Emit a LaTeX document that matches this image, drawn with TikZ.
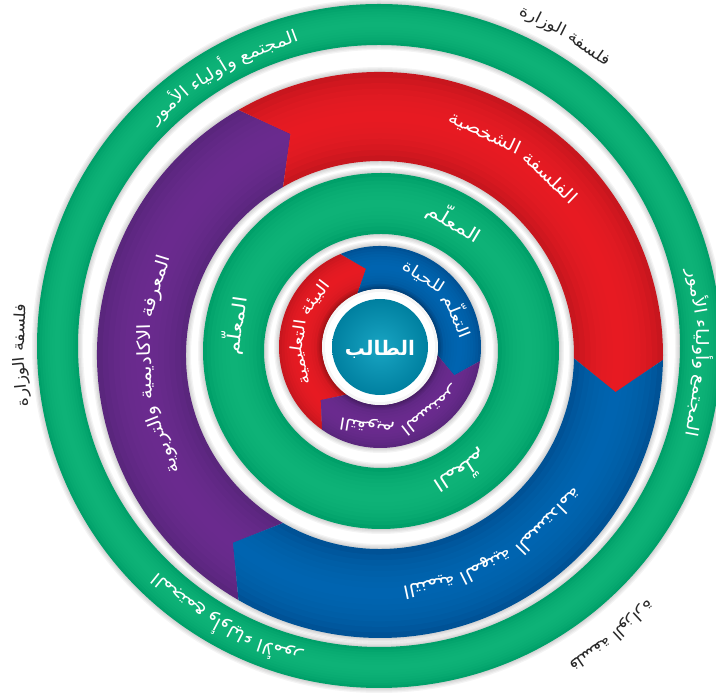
\documentclass[tikz,border=0pt]{standalone}
\usepackage{fontspec}
\newfontfamily\arabicfont[Script=Arabic]{DejaVu Sans}
\newfontfamily\arA[Script=Arabic,FakeStretch=1.12]{DejaVu Sans}
\newfontfamily\arB[Script=Arabic,FakeStretch=1.2]{DejaVu Sans}
\TeXXeTstate=1
\definecolor{grn}{RGB}{0,160,105}
\definecolor{grnL}{RGB}{20,185,125}
\definecolor{redB}{RGB}{200,22,30}
\definecolor{redL}{RGB}{240,30,38}
\definecolor{purB}{RGB}{90,38,125}
\definecolor{purL}{RGB}{112,46,148}
\definecolor{bluB}{RGB}{0,82,150}
\definecolor{bluL}{RGB}{0,106,184}
\definecolor{tealB}{RGB}{0,128,160}
\definecolor{tealL}{RGB}{25,165,195}
\definecolor{txtgray}{RGB}{40,40,40}
\newcommand\fOut{\arA\fontsize{15.5}{18}\selectfont}
\newcommand\fRing{\arA\fontsize{17}{19}\selectfont}
\newcommand\fBig{\arA\fontsize{18}{20}\selectfont}
\newcommand\fMid{\arB\fontsize{18.5}{20}\selectfont}
\newcommand\fIn{\arB\fontsize{16}{18}\selectfont}
\newlength\arcwd
\newcounter{arcnode}
\newcommand\measurew[1]{%
  \pgfinterruptpicture\settowidth\arcwd{#1}\global\arcwd=\arcwd\relax\endpgfinterruptpicture}
% #1 mid angle, #2 radius of text middle, #3 font, #4 colour,
% #5 pieces in reading order; an item | stands for a word space
\newcommand\arcphrase[5]{%
  \measurew{#3\ }\xdef\arcgap{\the\arcwd}%
  \measurew{#3\hspace{0.28em}}\xdef\arcdrop{\the\arcwd}%
  \xdef\arctot{0}%
  \foreach \w in {#5}{%
    \if|\w \xdef\arcw{\arcgap}\else\measurew{#3\beginR\w\endR}\xdef\arcw{\the\arcwd}\fi
    \pgfmathsetmacro\tmp{\arctot+\arcw}%
    \xdef\arctot{\tmp}}%
  \pgfmathsetmacro\arcstart{#1-\arctot/2/(#2)*180/pi}%
  \xdef\arcstart{\arcstart}%
  \pgfmathsetmacro\arcrb{#2-\arcdrop}\xdef\arcrb{\arcrb}%
  \xdef\arccur{0}%
  \foreach \w in {#5}{%
    \if|\w \xdef\arcw{\arcgap}\else\measurew{#3\beginR\w\endR}\xdef\arcw{\the\arcwd}\fi
    \if|\w \else
      \pgfmathsetmacro\tha{\arcstart+(\arccur+\arcw/2)/(#2)*180/pi}%
      \stepcounter{arcnode}%
      \node[arctext, text=#4, rotate=\tha-90] (t\thearcnode) at (\tha:\arcrb) {#3\beginR\w\endR};
    \fi
    \pgfmathsetmacro\tmp{\arccur+\arcw}%
    \xdef\arccur{\tmp}}%
}
% light band shading between radii #1 and #2
\newcommand\bandshade[3]{%
  \foreach \k in {1,...,7}{%
    \draw[#3, opacity=0.22, line width={(#2-#1)*(1-\k/8)}] (0,0) circle[radius={(#1+#2)/2}];}}
\newcommand\bandshadow[2]{%
  \foreach \k in {1,...,4}{%
    \draw[black, opacity=0.045, line width={(#2-#1)+2.5*\k}] (0,0) circle[radius={(#1+#2)/2}];}}
% segment: #1 tail angle, #2 head angle, #3 ri, #4 ro, #5 tip depth, #6 base, #7 light
\newcommand\segment[7]{%
  \begin{scope}
  \fill[#6] (#1:#4) arc[start angle=#1, end angle=#2, radius=#4] -- ({#2-#5}:{(#3+#4)/2}) -- (#2:#3)
     arc[start angle=#2, end angle=#1, radius=#3] -- ({#1-#5}:{(#3+#4)/2}) -- cycle;
  \clip (#1:#4) arc[start angle=#1, end angle=#2, radius=#4] -- ({#2-#5}:{(#3+#4)/2}) -- (#2:#3)
     arc[start angle=#2, end angle=#1, radius=#3] -- ({#1-#5}:{(#3+#4)/2}) -- cycle;
  \bandshade{#3}{#4}{#7}
  \end{scope}}
\begin{document}
\begin{tikzpicture}[x=1pt,y=1pt, arctext/.style={inner sep=0pt, anchor=base}]
\useasboundingbox (0,0) rectangle (716,695);
\fill[white] (0,0) rectangle (716,695);
% outer green ring (image centre 379,346)
\begin{scope}[shift={(379,349)}]
  \bandshadow{301}{342}
  \fill[grn, even odd rule] (0,0) circle[radius=342] (0,0) circle[radius=301];
  \bandshade{301}{342}{grnL}
\end{scope}
% outer coloured ring (image centre 380,355)
\begin{scope}[shift={(380,340)}]
  \bandshadow{194}{283}
  \segment{240}{120}{194}{283}{8}{purB}{purL}
  \segment{120}{-1}{194}{283}{8}{redB}{redL}
  \segment{359}{240}{194}{283}{8}{bluB}{bluL}
  \arcphrase{56}{245}{\fBig}{white}{الفلسفة,|,الشخصية}
  \arcphrase{182.5}{234}{\fBig}{white}{المعرفة,|,الاكاديمية,|,والتربوية}
  \arcphrase{-59.3}{236}{\fBig}{white}{التنمية,|,المهنية,|,المستدامة}
\end{scope}
% middle green ring (image centre 381,351)
\begin{scope}[shift={(381,344)}]
  \bandshadow{117}{178}
  \fill[grn, even odd rule] (0,0) circle[radius=178] (0,0) circle[radius=117];
  \bandshade{117}{178}{grnL}
\end{scope}
\begin{scope}[shift={(380,348)}]
  % inner coloured ring
  \bandshadow{58}{101}
  \segment{235}{113}{58}{101}{13}{redB}{redL}
  \segment{113}{-8}{58}{101}{13}{bluB}{bluL}
  \segment{352}{235}{58}{101}{13}{purB}{purL}
  % white ring and centre disc
  \bandshadow{44}{58}
  \fill[white!96!black] (0,0) circle[radius=58];
  \fill[white] (0,0) circle[radius=55];
  \shade[inner color=tealL, outer color=tealB] (0,0) circle[radius=48];
  \node[text=white] (centre) at (0,-2) {\arabicfont\bfseries\fontsize{20}{22}\selectfont\beginR الطالب\endR};
  % texts outside
  \arcphrase{59.3}{364}{\fOut}{txtgray}{فلسفة,|,الوزارة}
  \arcphrase{181.3}{360}{\fOut}{txtgray}{فلسفة,|,الوزارة}
  \arcphrase{-51.3}{372}{\fOut}{txtgray}{فلسفة,|,الوزارة}
  % outer green ring texts
  \arcphrase{120}{320}{\fRing}{white}{المجتمع,|,وأولياء,|,الأمور}
  \arcphrase{-1}{321}{\fRing}{white}{المجتمع,|,وأولياء,|,الأمور}
  \arcphrase{240.6}{320}{\fRing}{white}{المجتمع,|,وأولياء,|,الأمور}
  % middle green ring texts
  \arcphrase{59}{143}{\fMid}{white}{المعلّم}
  \arcphrase{171.6}{144}{\fMid}{white}{المعلّم}
  \arcphrase{-57}{147}{\fMid}{white}{المعلّم}
  % inner coloured ring texts
  \arcphrase{168}{81}{\fIn}{white}{البيئة,|,التعل^^^^200d,^^^^200dيمية}
  \arcphrase{40}{82}{\fIn}{white}{التعلّم,|,للحياة}
  \arcphrase{286.5}{81}{\fIn}{white}{التقويم,|,المستمر}
\end{scope}
\end{tikzpicture}
\end{document}
